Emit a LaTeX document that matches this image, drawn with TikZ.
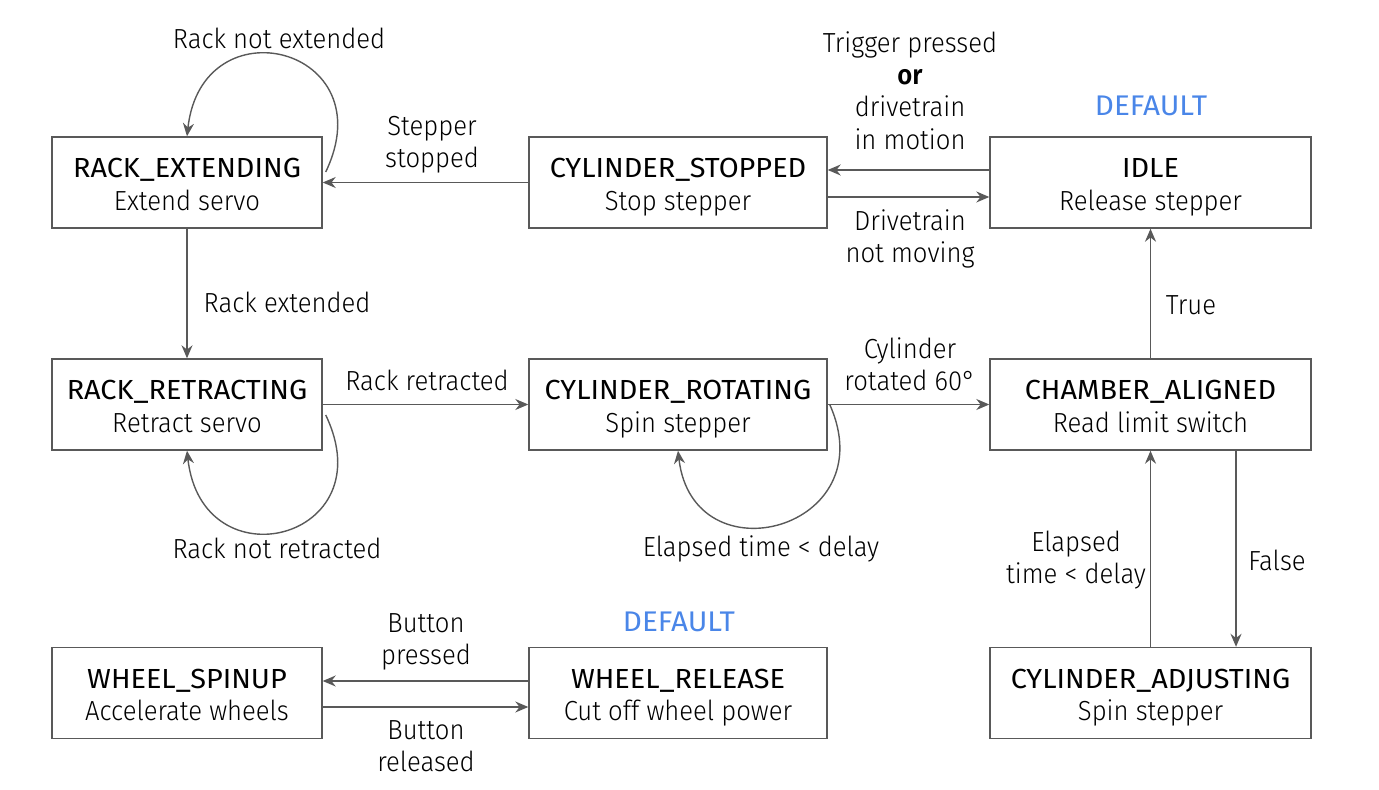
\documentclass[tikz,border=0pt]{standalone}
\usepackage{fontspec}
\setmainfont{Fira Sans Light}[FakeStretch=0.93, BoldFont={Fira Sans SemiBold}, BoldFeatures={FakeStretch=0.93}]
\newfontfamily\titlefont{Fira Sans}[FakeStretch=1.045]
\usepackage{tikz}
\usetikzlibrary{arrows.meta}

\definecolor{defblue}{HTML}{4A86E8}
\definecolor{edgegray}{HTML}{595959}

\begin{document}
\begin{tikzpicture}[x=0.5pt, y=-0.5pt,
		>={Stealth[length=6.5pt, width=5.5pt]},
		state/.style={draw=edgegray, line width=0.7pt, minimum height=45.5pt, inner sep=0pt, align=center, text height=27.7pt, text depth=0pt, font=\fontsize{13.8}{16.2}\selectfont},
		lbl/.style={align=center, inner sep=0pt, font=\fontsize{13.8}{16.2}\selectfont},
		dflt/.style={lbl, text=defblue, font=\fontsize{14.2}{16.2}\titlefont},
		edge/.style={draw=edgegray, line width=0.7pt}]
		\useasboundingbox (0, 0) rectangle (1379, 790);

		% states
		\node[state, minimum width=135pt] at (187, 182.5) (ext) {{\titlefont RACK\_EXTENDING}\\Extend servo};
		\node[state, minimum width=149pt] at (678, 182.5) (stop) {{\titlefont CYLINDER\_STOPPED}\\Stop stepper};
		\node[state, minimum width=160.5pt] at (1150.5, 182.5) (idle) {{\titlefont IDLE}\\Release stepper};
		\node[state, minimum width=135pt] at (187, 404.5) (ret) {{\titlefont RACK\_RETRACTING}\\Retract servo};
		\node[state, minimum width=149pt] at (678, 404.5) (rot) {{\titlefont CYLINDER\_ROTATING}\\Spin stepper};
		\node[state, minimum width=160.5pt] at (1150.5, 404.5) (cha) {{\titlefont CHAMBER\_ALIGNED}\\Read limit switch};
		\node[state, minimum width=135pt] at (187, 693) (spin) {{\titlefont WHEEL\_SPINUP}\\Accelerate wheels};
		\node[state, minimum width=149pt] at (678, 693) (rel) {{\titlefont WHEEL\_RELEASE}\\Cut off wheel power};
		\node[state, minimum width=160.5pt] at (1150.5, 693) (adj) {{\titlefont CYLINDER\_ADJUSTING}\\Spin stepper};

		\node[dflt] at (1151, 106) (d1) {DEFAULT};
		\node[dflt] at (679, 622) (d2) {DEFAULT};

		% transitions
		\draw[edge, ->] (stop.west) -- (ext.east);
		\draw[edge, ->] ([yshift=6.25pt]idle.west) -- ([yshift=6.25pt]stop.east);
		\draw[edge, ->] ([yshift=-7.25pt]stop.east) -- ([yshift=-7.25pt]idle.west);
		\draw[edge, ->] (ext.south) -- (ret.north);
		\draw[edge, ->] (ret.east) -- (rot.west);
		\draw[edge, ->] (rot.east) -- (cha.west);
		\draw[edge, ->] (cha.north) -- (idle.south);
		\draw[edge, ->] ([xshift=42.75pt]cha.south) -- ([xshift=42.75pt]adj.north);
		\draw[edge, ->] (adj.north) -- (cha.south);
		\draw[edge, ->] ([yshift=6pt]rel.west) -- ([yshift=6pt]spin.east);
		\draw[edge, ->] ([yshift=-7pt]spin.east) -- ([yshift=-7pt]rel.west);

		% self loops
		\draw[edge, ->] ([xshift=1.5pt, yshift=5.25pt]ext.east) .. controls +(60, -125) and +(15, -135) .. (ext.north);
		\draw[edge, ->] ([xshift=1.5pt, yshift=-5.25pt]ret.east) .. controls +(60, 125) and +(15, 135) .. (ret.south);
		\draw[edge, ->] ([xshift=1pt]rot.east) .. controls +(56, 125) and +(15, 130) .. (rot.south);

		% labels
		\node[lbl] at (279, 38) (l1) {Rack not extended};
		\node[lbl] at (432, 145) (l2) {Stepper\\stopped};
		\node[lbl] at (910, 90.5) (l3) {Trigger pressed\\\textbf{or}\\drivetrain\\in motion};
		\node[lbl] at (910, 239) (l4) {Drivetrain\\not moving};
		\node[lbl] at (287, 302) (l5) {Rack extended};
		\node[lbl] at (427, 380) (l6) {Rack retracted};
		\node[lbl] at (910, 364) (l7) {Cylinder\\rotated 60°};
		\node[lbl] at (1191, 305) (l8) {True};
		\node[lbl] at (277, 548) (l9) {Rack not retracted};
		\node[lbl] at (761, 549) (l10) {Elapsed time < delay};
		\node[lbl] at (1076, 560) (l11) {Elapsed\\time < delay};
		\node[lbl] at (1277, 560) (l12) {False};
		\node[lbl] at (426, 642) (l13) {Button\\pressed};
		\node[lbl] at (426, 746) (l14) {Button\\released};
	\end{tikzpicture}
\end{document}
